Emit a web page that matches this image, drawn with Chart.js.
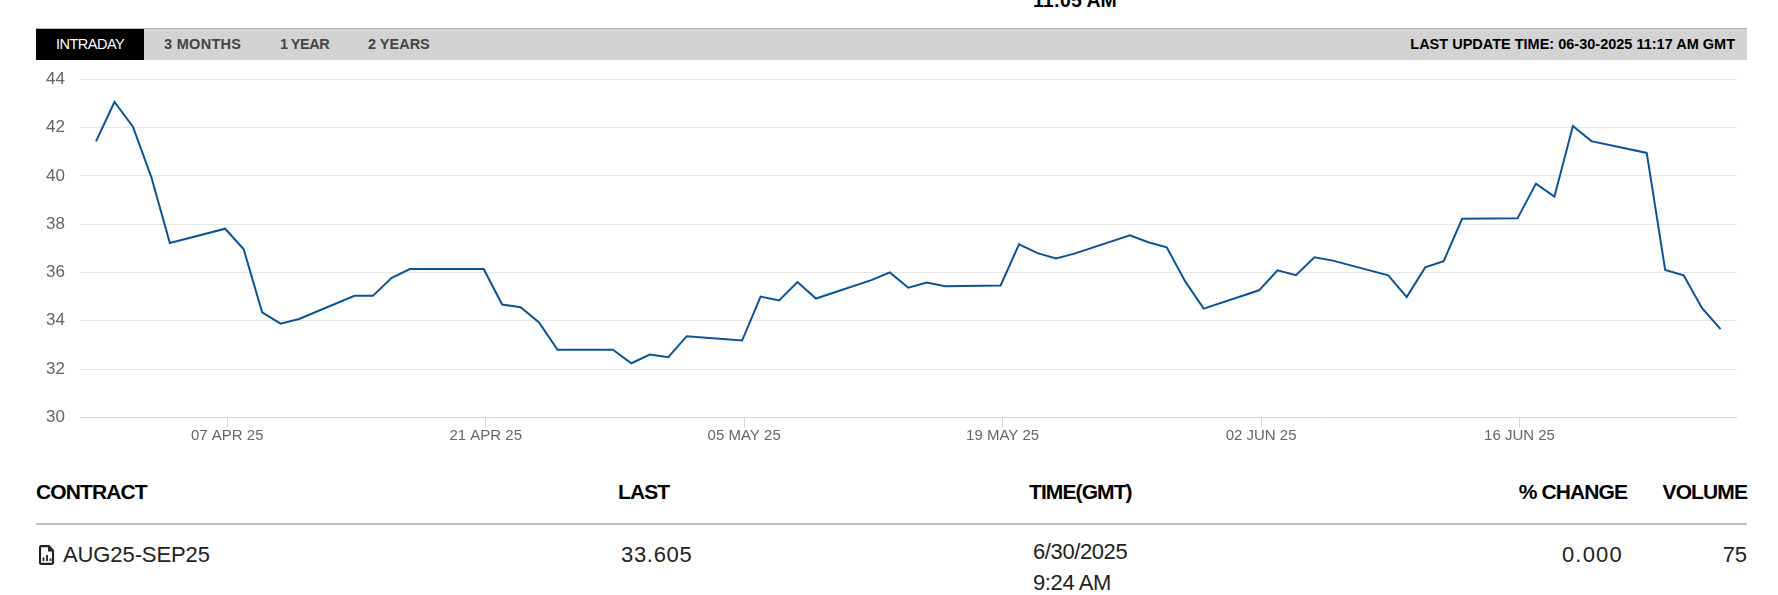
<!DOCTYPE html>
<html>
<head>
<meta charset="utf-8">
<title>AUG25-SEP25</title>
<script src="https://cdn.jsdelivr.net/npm/chart.js@4"></script>
<style>
  html, body { margin: 0; padding: 0; background: #fff; }
  body { position: relative; width: 1778px; height: 595px; overflow: hidden; font-family: "Liberation Sans", Arial, sans-serif; color: #000; }
  .t { position: absolute; white-space: nowrap; line-height: 1; }
  .band { position: absolute; left: 36px; top: 28px; width: 1711px; height: 32px; background: #d3d3d3; border-top: 1px solid #b4b4b4; box-sizing: border-box; }
  .tab-on { position: absolute; left: 36px; top: 29px; width: 108px; height: 31px; background: #000; }
  .tab { font-size: 14.5px; font-weight: bold; color: #444; top: 37px; }
  .head { font-size: 21px; font-weight: bold; top: 481px; letter-spacing: -0.9px; }
  .cell { font-size: 22px; color: #222; top: 544px; letter-spacing: -0.1px; }
  .rule { position: absolute; left: 36px; top: 523px; width: 1711px; height: 2px; background: #bdbdbd; }
  #wrap { position: absolute; left: 0; top: 70px; width: 1737px; height: 380px; }
</style>
</head>
<body>
<div class="t" style="left:1033px;top:-9px;font-size:19.5px;font-weight:bold;">11:05 AM</div>

<div class="band"></div>
<div class="tab-on"></div>
<div class="t tab" style="left:56px;color:#fff;font-weight:normal;letter-spacing:-0.5px;">INTRADAY</div>
<div class="t tab" style="left:164px;letter-spacing:0.3px;">3 MONTHS</div>
<div class="t tab" style="left:280px;letter-spacing:-0.5px;">1 YEAR</div>
<div class="t tab" style="left:368px;">2 YEARS</div>
<div class="t tab" style="right:43px;color:#000;">LAST UPDATE TIME: 06-30-2025 11:17 AM GMT</div>

<div id="wrap"><canvas id="priceChart"></canvas></div>

<div class="t head" style="left:36px;">CONTRACT</div>
<div class="t head" style="left:618px;">LAST</div>
<div class="t head" style="left:1029px;">TIME(GMT)</div>
<div class="t head" style="right:151px;">% CHANGE</div>
<div class="t head" style="right:31px;">VOLUME</div>
<div class="rule"></div>

<svg style="position:absolute;left:39px;top:545px;" width="16" height="20" viewBox="0 0 16 20">
  <path d="M2.2 1.2h7.6l4.2 4.4v12q0 1.2-1.2 1.2h-10.6q-1.2 0-1.2-1.2v-15.2q0-1.2 1.2-1.2z" fill="none" stroke="#222" stroke-width="2.2"/>
  <path d="M9 1.5v5h5z" fill="#222"/>
  <path d="M4.5 16v-3.5M8 16v-6M11.5 16v-2.5" stroke="#222" stroke-width="1.8"/>
</svg>
<div class="t cell" style="left:63px;">AUG25-SEP25</div>
<div class="t cell" style="left:621px;letter-spacing:0.7px;">33.605</div>
<div class="t cell" style="left:1033px;top:541px;letter-spacing:-0.4px;">6/30/2025</div>
<div class="t cell" style="left:1033px;top:572px;letter-spacing:-0.4px;">9:24 AM</div>
<div class="t cell" style="right:155px;letter-spacing:1.2px;">0.000</div>
<div class="t cell" style="right:31px;">75</div>

<script>
const tradeDates = [
  '2025-03-31', '2025-04-01', '2025-04-02', '2025-04-03', '2025-04-04',
  '2025-04-07', '2025-04-08', '2025-04-09', '2025-04-10', '2025-04-11',
  '2025-04-14', '2025-04-15', '2025-04-16', '2025-04-17',
  '2025-04-21', '2025-04-22', '2025-04-23', '2025-04-24', '2025-04-25',
  '2025-04-28', '2025-04-29', '2025-04-30', '2025-05-01', '2025-05-02',
  '2025-05-05', '2025-05-06', '2025-05-07', '2025-05-08', '2025-05-09',
  '2025-05-12', '2025-05-13', '2025-05-14', '2025-05-15', '2025-05-16',
  '2025-05-19', '2025-05-20', '2025-05-21', '2025-05-22', '2025-05-23',
  '2025-05-26', '2025-05-27', '2025-05-28', '2025-05-29', '2025-05-30',
  '2025-06-02', '2025-06-03', '2025-06-04', '2025-06-05', '2025-06-06',
  '2025-06-09', '2025-06-10', '2025-06-11', '2025-06-12', '2025-06-13',
  '2025-06-16', '2025-06-17', '2025-06-18', '2025-06-19', '2025-06-20',
  '2025-06-23', '2025-06-24', '2025-06-25', '2025-06-26', '2025-06-27'
];
const lastPrices = [
  41.43, 43.06, 42.04, 39.94, 37.22,
  37.81, 36.96, 34.35, 33.88, 34.07,
  35.03, 35.03, 35.77, 36.14,
  36.14, 34.67, 34.56, 33.93, 32.80,
  32.80, 32.24, 32.60, 32.49, 33.36,
  33.18, 35.00, 34.84, 35.60, 34.92,
  35.68, 36.00, 35.37, 35.58, 35.43,
  35.46, 37.16, 36.80, 36.58, 36.78,
  37.54, 37.25, 37.04, 35.63, 34.50,
  35.26, 36.09, 35.89, 36.63, 36.49,
  35.88, 34.98, 36.21, 36.47, 38.22,
  38.24, 39.68, 39.14, 42.07, 41.44,
  40.95, 36.10, 35.88, 34.52, 33.65
];
const tickDates = ['2025-04-07', '2025-04-21', '2025-05-05', '2025-05-19', '2025-06-02', '2025-06-16'];
const tickLabels = ['07 APR 25', '21 APR 25', '05 MAY 25', '19 MAY 25', '02 JUN 25', '16 JUN 25'];

// x axis runs in days since the first trading date
function dayNumber(date) {
  return (Date.parse(date) - Date.parse(tradeDates[0])) / 86400000;
}

const tickOffset = 0.11; // ticks sit a little right of the daily points
const tickValues = tickDates.map(d => dayNumber(d) + tickOffset);

const ctx = document.getElementById('priceChart').getContext('2d');
const priceChart = new Chart(ctx, {
  type: 'line',
  data: {
    datasets: [{
      data: tradeDates.map((d, i) => ({ x: dayNumber(d), y: lastPrices[i] })),
      borderColor: '#0455a4',
      borderWidth: 2,
      pointRadius: 0,
      tension: 0,
      fill: false
    }]
  },
  options: {
    responsive: true,
    maintainAspectRatio: false,
    animation: false,
    layout: { padding: { top: 9.3, right: 0, left: 0, bottom: 0 } },
    plugins: { legend: { display: false }, tooltip: { enabled: false } },
    scales: {
      x: {
        type: 'linear',
        min: -0.867,
        max: 88.89,
        afterBuildTicks: scale => {
          scale.ticks = tickValues.map(v => ({ value: v }));
        },
        afterFit: scale => {
          scale.height = 32.7;
          scale.paddingLeft = 0;
          scale.paddingRight = 0;
        },
        grid: { drawOnChartArea: false, color: '#ccd6eb', tickLength: 10 },
        border: { color: '#ccd6eb' },
        ticks: {
          autoSkip: false,
          maxRotation: 0,
          padding: 0,
          color: '#666',
          font: { family: 'Liberation Sans', size: 15 },
          callback: value => tickLabels[tickValues.indexOf(value)]
        }
      },
      y: {
        min: 30,
        max: 44,
        afterFit: scale => {
          scale.width = 80;
          scale.paddingTop = 0;
          scale.paddingBottom = 0;
        },
        grid: { color: '#e6e6e6', drawTicks: false },
        border: { display: false },
        ticks: {
          stepSize: 2,
          padding: 15,
          color: '#666',
          font: { family: 'Liberation Sans', size: 17 }
        }
      }
    }
  }
});
</script>
</body>
</html>
